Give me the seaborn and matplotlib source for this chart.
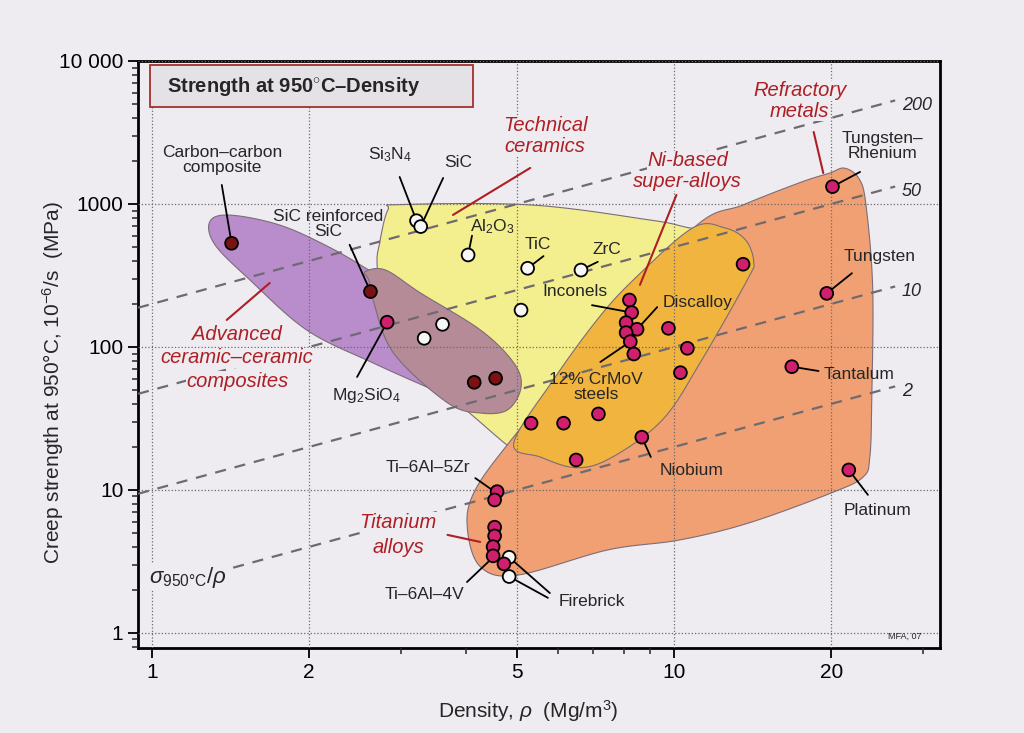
import numpy as np
import pandas as pd
import seaborn as sns
import matplotlib
matplotlib.use('Agg')
import matplotlib.pyplot as plt
from matplotlib.patches import Polygon, Rectangle
from matplotlib.ticker import FixedLocator, NullFormatter, LogLocator

sns.set_style('ticks')
plt.rcParams['font.family'] = ['Liberation Sans', 'DejaVu Sans']
plt.rcParams['mathtext.fontset'] = 'custom'
plt.rcParams['mathtext.rm'] = 'Liberation Sans'
plt.rcParams['mathtext.it'] = 'Liberation Sans:italic'
plt.rcParams['mathtext.bf'] = 'Liberation Sans:bold'

BG = '#eeebf1'
RED = '#ad1f24'

# ---- material points (density Mg/m3, creep strength MPa) ----
comp_rho = [1.42, 2.62, 4.14, 4.55]
comp_sig = [531, 244, 56.6, 60.4]

cer_rho = [3.21, 3.27, 4.03, 5.24, 6.63, 5.09, 3.60, 3.32, 4.83, 4.83]
cer_sig = [764, 695, 440, 355, 345, 181, 144, 115, 3.38, 2.48]

met_rho = [2.82, 8.21, 8.29, 8.09, 8.49, 8.09, 8.24, 8.37, 9.75, 10.6, 10.28,
           7.16, 6.14, 5.32, 6.49, 8.67, 13.55, 20.1, 19.6, 16.8, 21.6,
           4.58, 4.53, 4.53, 4.53, 4.50, 4.50, 4.72]
met_sig = [149, 213, 174, 148, 133, 126, 109, 89.3, 135, 97.9, 66.1,
           34.0, 29.3, 29.3, 16.2, 23.4, 379, 1322, 237, 72.8, 13.8,
           9.73, 8.51, 5.49, 4.77, 4.01, 3.46, 3.04]

# ---- property envelopes (outline vertices) ----
yellow_rho = [2.83, 2.99, 5.32, 8.91, 10.5, 13.0, 14.7, 12.0, 9.0, 5.55, 4.93, 3.90, 3.27, 2.80, 2.70, 2.73]
yellow_sig = [910, 990, 984, 776, 690, 560, 213, 80, 31, 16.2, 19.0, 38.7, 58.8, 131, 358, 540]

purple_rho = [1.29, 1.41, 1.76, 2.20, 2.70, 3.74, 4.46, 4.46, 4.13, 3.57, 2.65, 1.98, 1.54, 1.32]
purple_sig = [752, 836, 710, 492, 318, 155, 69, 42.7, 38, 47.6, 77.3, 131, 294, 518]

mauve_rho = [2.56, 2.80, 3.27, 4.26, 4.93, 5.09, 4.80, 4.26, 3.68, 2.90, 2.65, 2.60]
mauve_sig = [336, 345, 238, 131, 77.3, 52.4, 36.4, 34.5, 40.7, 90.8, 213, 294]

salmon_rho = [4.02, 4.13, 4.87, 7.2, 10.9, 13.6, 17.5, 19.8, 21.2, 22.6, 23.3, 24.0, 23.9, 23.7, 23.0,
              20.0, 13.9, 10.25, 7.47, 5.02, 4.26]
salmon_sig = [5.25, 9.5, 22.3, 123, 680, 990, 1420, 1640, 1780, 1500, 984, 259, 42.6, 17.0, 12.3,
              9.53, 5.88, 4.47, 3.81, 2.54, 2.89]

gold_rho = [4.93, 5.87, 7.11, 8.35, 10.85, 12.5, 13.7, 14.2, 13.8, 11.2, 9.5, 7.62, 6.52, 5.54]
gold_sig = [21.3, 58.9, 154, 294, 680, 680, 560, 394, 294, 77, 31, 17.0, 14.3, 17.0]

# guide lines sigma/rho = C
guide_C = [200, 50, 10, 2]
guide_start = [0.94, 0.94, 0.94, 1.43]
guide_end = 26.5


def smooth(xs, ys, n=24, asp=3.65):
    # closed Catmull-Rom spline in (scaled) log space
    P = np.column_stack([np.log10(xs) * asp, np.log10(ys)])
    m = len(P)
    t = np.linspace(0, 1, n, endpoint=False)[:, None]
    out = []
    for i in range(m):
        p0, p1, p2, p3 = P[i - 1], P[i], P[(i + 1) % m], P[(i + 2) % m]
        out.append(0.5 * (2 * p1 + (-p0 + p2) * t + (2 * p0 - 5 * p1 + 4 * p2 - p3) * t ** 2
                          + (-p0 + 3 * p1 - 3 * p2 + p3) * t ** 3))
    out = np.vstack(out)
    return np.column_stack([10 ** (out[:, 0] / asp), 10 ** out[:, 1]])


fig = plt.figure(figsize=(10.24, 7.33), dpi=100, facecolor=BG)
ax = fig.add_axes([0.1348, 0.116, 0.7832, 0.8008])
ax.set_facecolor(BG)
ax.set_xscale('log')
ax.set_yscale('log')
ax.set_xlim(0.94, 32.3)
ax.set_ylim(0.785, 10000)

for xs, ys, col in [(yellow_rho, yellow_sig, '#f3ee8e'),
                    (purple_rho, purple_sig, '#b98ccb'),
                    (mauve_rho, mauve_sig, '#b48b97'),
                    (salmon_rho, salmon_sig, '#f0a072'),
                    (gold_rho, gold_sig, '#f1b43e')]:
    ax.add_patch(Polygon(smooth(xs, ys), closed=True, facecolor=col,
                         edgecolor='#7b6d78', lw=0.8, zorder=1))

# dashed guide lines
for C, x0 in zip(guide_C, guide_start):
    ax.plot([x0, guide_end], [C * x0, C * guide_end], ls=(0, (5, 4)), color='#6e6a70',
            lw=1.6, zorder=2.6)
    ax.text(27.3, C * 27.3 * 0.9, str(C), fontsize=13, style='italic', va='center', ha='left')

ax.grid(True, which='major', ls=':', color='#6a6a6a', lw=0.9)
ax.set_axisbelow(False)

pts = pd.concat([
    pd.DataFrame({'rho': comp_rho, 'sig': comp_sig, 'kind': 'composite'}),
    pd.DataFrame({'rho': cer_rho, 'sig': cer_sig, 'kind': 'ceramic'}),
    pd.DataFrame({'rho': met_rho, 'sig': met_sig, 'kind': 'metal'}),
])
sns.scatterplot(data=pts, x='rho', y='sig', hue='kind',
                palette={'composite': '#7a1212', 'ceramic': '#f7f7f7', 'metal': '#d01f6c'},
                s=85, edgecolor='black', linewidth=1.3, legend=False, zorder=4, ax=ax)

# black labels: text, text pos, leader start, leader end
labels = [
    ('Carbon–carbon\ncomposite', 1.36, 2032, (1.36, 1358), (1.42, 531)),
    ('Si$_3$N$_4$', 2.86, 2202, (2.98, 1545), (3.21, 764)),
    ('SiC', 3.86, 1935, (3.61, 1520), (3.27, 695)),
    ('SiC reinforced\nSiC', 2.17, 724, (2.39, 518), (2.62, 244)),
    ('Al$_2$O$_3$', 4.48, 691, (4.10, 600), (4.03, 440)),
    ('TiC', 5.49, 518, (5.62, 432), (5.24, 355)),
    ('ZrC', 7.44, 477, (7.14, 394), (6.63, 345)),
    ('Inconels', 6.46, 243, (6.96, 196), (8.29, 174)),
    ('Discalloy', 11.07, 203, (9.28, 190), (8.49, 133)),
    ('12% CrMoV\nsteels', 7.09, 52.5, (7.22, 78.5), (8.24, 109)),
    ('Niobium', 10.8, 13.6, (9.02, 17.0), (8.67, 23.4)),
    ('Tungsten–\nRhenium', 25.1, 2545, (22.7, 1675), (20.1, 1322)),
    ('Tungsten', 24.8, 426, (21.9, 328), (19.6, 237)),
    ('Tantalum', 22.6, 64.7, (18.9, 67.9), (16.8, 72.8)),
    ('Platinum', 24.5, 7.13, (23.5, 9.24), (21.6, 13.8)),
    ('Ti–6Al–5Zr', 3.38, 14.3, (4.16, 12.1), (4.53, 9.73)),
    ('Ti–6Al–4V', 3.33, 1.87, (4.01, 2.27), (4.53, 3.46)),
    ('Firebrick', 6.96, 1.65, (5.78, 1.90), (4.83, 3.38)),
    ('', 6.96, 1.65, (5.73, 1.76), (4.83, 2.48)),
    ('Mg$_2$SiO$_4$', 2.58, 45.4, (2.47, 61.7), (2.82, 149)),
]
for txt, tx, ty, a, b in labels:
    ax.plot([a[0], b[0]], [a[1], b[1]], color='black', lw=1.3, zorder=3.5)
    if txt:
        ax.text(tx, ty, txt, fontsize=12.5, ha='center', va='center', linespacing=1.0, zorder=5)

# family labels in red italic (one text per line so each gets a tight backing box)
families = [
    (['Technical', 'ceramics'], 5.66, [3540, 2520], (5.30, 1786), (3.77, 838)),
    (['Ni-based', 'super-alloys'], 10.6, [2010, 1440], (10.1, 1156), (8.60, 272)),
    (['Refractory', 'metals'], 17.4, [6200, 4450], (18.5, 3188), (19.3, 1647)),
    (['Advanced', 'ceramic–ceramic', 'composites'], 1.455, [122, 84, 57.5], (1.39, 154.5), (1.68, 280)),
    (['Titanium', 'alloys'], 2.96, [5.95, 3.95], (3.68, 4.85), (4.25, 4.33)),
]
for lines, tx, tys, a, b in families:
    ax.plot([a[0], b[0]], [a[1], b[1]], color=RED, lw=1.5, zorder=3.5)
    for txt, ty in zip(lines, tys):
        ax.text(tx, ty, txt, fontsize=14.5, style='italic', color=RED, ha='center', va='center',
                zorder=5, bbox=dict(facecolor=BG, edgecolor='none', pad=0.3))

ax.text(1.17, 2.46, r'$\sigma_{\mathrm{950°C}}/\rho$', fontsize=16, ha='center', va='center',
        zorder=5, bbox=dict(facecolor=BG, edgecolor='none', pad=0.5))
ax.text(0.956, 0.012, 'MFA, 07', transform=ax.transAxes, fontsize=6.5, ha='center', va='bottom')

# title box
ax.add_patch(Rectangle((0.015, 0.922), 0.403, 0.071, transform=ax.transAxes,
                       facecolor='#e5e2e7', edgecolor='#a3302b', lw=1.3, zorder=5))
ax.text(0.036, 0.957, 'Strength at 950$^{\\circ}$C–Density', transform=ax.transAxes,
        fontsize=14.5, fontweight='bold', va='center', ha='left', zorder=6)

# axes, ticks
ax.xaxis.set_major_locator(FixedLocator([1, 2, 5, 10, 20]))
ax.set_xticklabels(['1', '2', '5', '10', '20'])
ax.xaxis.set_minor_locator(FixedLocator([3, 4, 6, 7, 8, 9, 30]))
ax.xaxis.set_minor_formatter(NullFormatter())
ax.yaxis.set_major_locator(FixedLocator([1, 10, 100, 1000, 10000]))
ax.set_yticklabels(['1', '10', '100', '1000', '10 000'])
ax.yaxis.set_minor_locator(LogLocator(base=10, subs=np.arange(2, 10)))
ax.yaxis.set_minor_formatter(NullFormatter())
ax.tick_params(which='major', direction='out', length=7, width=1.3, labelsize=15, colors='black')
ax.tick_params(which='minor', direction='out', length=4, width=1.1)
for sp in ax.spines.values():
    sp.set_linewidth(2)
    sp.set_color('black')

ax.set_xlabel(r'Density, $\rho$  (Mg/m$^3$)', fontsize=15)
ax.set_ylabel('Creep strength at 950°C, 10$^{-6}$/s  (MPa)', fontsize=15)
ax.xaxis.set_label_coords(0.486, -0.085)
ax.yaxis.set_label_coords(-0.09, 0.453)

fig.savefig('out.png', dpi=100, facecolor=BG)
